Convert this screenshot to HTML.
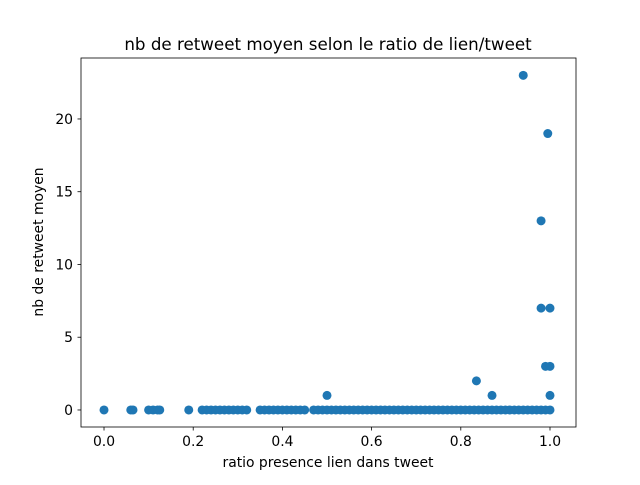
<!DOCTYPE html>
<html><head><meta charset="utf-8">
<style>
body{margin:0;background:#fff;}
svg text{font-family:"DejaVu Sans","Liberation Sans",sans-serif;fill:#000;}
</style></head>
<body>
<svg id="chart" width="640" height="480" xmlns="http://www.w3.org/2000/svg">
<rect width="640" height="480" fill="#fff"/>
<text x="328" y="50" font-size="16.7" text-anchor="middle">nb de retweet moyen selon le ratio de lien/tweet</text>
<g id="marks"></g>
<g id="axes"></g>
<text x="328" y="467" font-size="13.9" text-anchor="middle">ratio presence lien dans tweet</text>
<text transform="translate(43,242) rotate(-90)" font-size="13.9" text-anchor="middle">nb de retweet moyen</text>
</svg>
<script>
const xValues = [0,0.06,0.065,0.1,0.11,0.12,0.125,0.19,0.22,0.23,0.24,0.25,0.26,0.27,0.28,0.29,0.3,0.31,0.32,0.35,0.36,0.37,0.38,0.39,0.4,0.41,0.42,0.43,0.44,0.45,0.47,0.48,0.49,0.5,0.51,0.52,0.53,0.54,0.55,0.56,0.57,0.58,0.59,0.6,0.61,0.62,0.63,0.64,0.65,0.66,0.67,0.68,0.69,0.7,0.71,0.72,0.73,0.74,0.75,0.76,0.77,0.78,0.79,0.8,0.81,0.82,0.83,0.84,0.85,0.86,0.87,0.88,0.89,0.9,0.91,0.92,0.93,0.94,0.95,0.96,0.97,0.98,0.99,1.0,
0.94,0.995,0.98,0.98,1.0,0.99,1.0,1.0,0.5,0.835,0.87];
const yValues = [0,0,0,0,0,0,0,0,0,0,0,0,0,0,0,0,0,0,0,0,0,0,0,0,0,0,0,0,0,0,0,0,0,0,0,0,0,0,0,0,0,0,0,0,0,0,0,0,0,0,0,0,0,0,0,0,0,0,0,0,0,0,0,0,0,0,0,0,0,0,0,0,0,0,0,0,0,0,0,0,0,0,0,0,
23,19,13,7,7,3,3,1,1,2,1];
const xTicks = [0.0,0.2,0.4,0.6,0.8,1.0];
const xTickLabels = ["0.0","0.2","0.4","0.6","0.8","1.0"];
const yTicks = [0,5,10,15,20];
const yTickLabels = ["0","5","10","15","20"];

const L=81,R=576,T=58,B=427;
const xMin=-0.0516,xMax=1.0583,yMin=-1.17,yMax=24.19;
const sx=v=>L+(v-xMin)/(xMax-xMin)*(R-L);
const sy=v=>B-(v-yMin)/(yMax-yMin)*(B-T);
const NS="http://www.w3.org/2000/svg";
const marks=document.getElementById('marks');
for(let i=0;i<xValues.length;i++){
  const c=document.createElementNS(NS,'circle');
  c.setAttribute('cx',sx(xValues[i]));c.setAttribute('cy',sy(yValues[i]));
  c.setAttribute('r',4.5);c.setAttribute('fill','#1f77b4');
  
  
  marks.appendChild(c);
}
const axes=document.getElementById('axes');
const fr=document.createElementNS(NS,'rect');
fr.setAttribute('x',L);fr.setAttribute('y',T);fr.setAttribute('width',R-L);fr.setAttribute('height',B-T);
fr.setAttribute('fill','none');fr.setAttribute('stroke','#000');fr.setAttribute('stroke-width',0.8);


axes.appendChild(fr);
xTicks.forEach((t,i)=>{
  const x=sx(t);
  const l=document.createElementNS(NS,'line');
  l.setAttribute('x1',x);l.setAttribute('x2',x);l.setAttribute('y1',B);l.setAttribute('y2',B+3.5);
  l.setAttribute('stroke','#000');l.setAttribute('stroke-width',0.8);
  
  
  axes.appendChild(l);
  const tx=document.createElementNS(NS,'text');
  tx.setAttribute('x',x);tx.setAttribute('y',B+19);tx.setAttribute('font-size',13.9);tx.setAttribute('text-anchor','middle');
  tx.textContent=xTickLabels[i];
  
  
  axes.appendChild(tx);
});
yTicks.forEach((t,i)=>{
  const y=sy(t);
  const l=document.createElementNS(NS,'line');
  l.setAttribute('x1',L-3.5);l.setAttribute('x2',L);l.setAttribute('y1',y);l.setAttribute('y2',y);
  l.setAttribute('stroke','#000');l.setAttribute('stroke-width',0.8);
  
  
  axes.appendChild(l);
  const tx=document.createElementNS(NS,'text');
  tx.setAttribute('x',L-8);tx.setAttribute('y',y+5);tx.setAttribute('font-size',13.9);tx.setAttribute('text-anchor','end');
  tx.textContent=yTickLabels[i];
  
  
  axes.appendChild(tx);
});
</script>
</body></html>
